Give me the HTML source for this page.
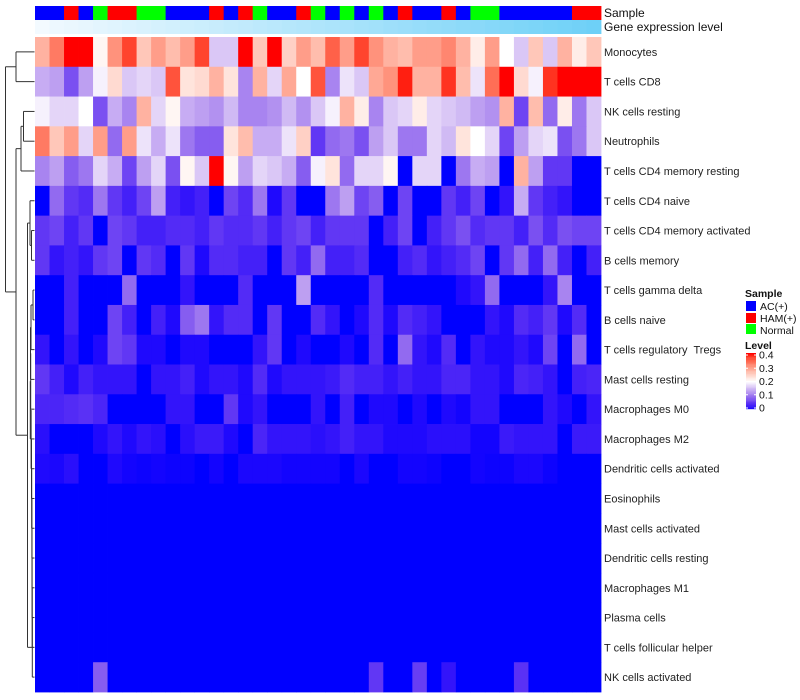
<!DOCTYPE html>
<html><head><meta charset="utf-8">
<style>
body{margin:0;background:#fff;}
svg{display:block;font-family:"Liberation Sans",sans-serif;}
</style></head>
<body>
<svg id="chart" width="800" height="700" viewBox="0 0 800 700" xmlns="http://www.w3.org/2000/svg">
  <rect width="800" height="700" fill="#fff"/>
  <g id="sampleBar"></g>
  <g id="geneBar"></g>
  <g id="cells"></g>
  <g id="dendro" stroke="#333" stroke-width="1" fill="none"></g>
  <g id="labels" font-size="11" fill="#222"></g>
  <text x="604" y="17" font-size="12" fill="#111">Sample</text>
  <text x="604" y="31" font-size="12" fill="#111">Gene expression level</text>
  <g font-size="10.5" fill="#111">
    <text x="745" y="297" font-weight="bold">Sample</text>
    <rect x="746" y="301" width="10" height="10" fill="#0000ff"/>
    <text x="760" y="310">AC(+)</text>
    <rect x="746" y="313" width="10" height="10" fill="#ff0000"/>
    <text x="760" y="322">HAM(+)</text>
    <rect x="746" y="324" width="10" height="10" fill="#00ff00"/>
    <text x="760" y="334">Normal</text>
    <text x="745" y="349" font-weight="bold">Level</text>
    <g id="levelBar"></g>
    <g id="levelTicks"></g>
  </g>
</svg>
<script>
const rowNames = ["Monocytes","T cells CD8","NK cells resting","Neutrophils","T cells CD4 memory resting","T cells CD4 naive","T cells CD4 memory activated","B cells memory","T cells gamma delta","B cells naive","T cells regulatory  Tregs","Mast cells resting","Macrophages M0","Macrophages M2","Dendritic cells activated","Eosinophils","Mast cells activated","Dendritic cells resting","Macrophages M1","Plasma cells","T cells follicular helper","NK cells activated"];
const sampleGroups = ["AC","AC","HAM","AC","N","HAM","HAM","N","N","AC","AC","AC","HAM","AC","HAM","N","AC","AC","HAM","N","AC","N","AC","N","AC","HAM","AC","AC","HAM","AC","N","N","AC","AC","AC","AC","AC","HAM","HAM"];
const geneExpr = [0.02,0.05,0.07,0.09,0.11,0.13,0.15,0.17,0.19,0.21,0.23,0.25,0.27,0.29,0.31,0.33,0.35,0.37,0.39,0.41,0.43,0.45,0.47,0.49,0.51,0.53,0.55,0.57,0.59,0.61,0.63,0.65,0.67,0.69,0.71,0.73,0.75,0.77,0.79];
const levelTicks = [0,0.1,0.2,0.3,0.4];
const Z = new Array(39).fill(0);
const r00 = [0.28,0.33,0.4,0.4,0.21,0.31,0.37,0.26,0.3,0.27,0.3,0.37,0.16,0.16,0.4,0.26,0.4,0.25,0.3,0.27,0.35,0.3,0.37,0.31,0.28,0.27,0.3,0.3,0.32,0.28,0.22,0.3,0.2,0.16,0.26,0.16,0.28,0.22,0.26];
const r01 = [0.14,0.13,0.07,0.13,0.19,0.24,0.16,0.17,0.16,0.36,0.23,0.24,0.28,0.23,0.11,0.28,0.17,0.29,0.2,0.36,0.11,0.18,0.16,0.29,0.31,0.39,0.28,0.28,0.38,0.27,0.18,0.34,0.4,0.24,0.19,0.38,0.4,0.4,0.4];
const r02 = [0.19,0.17,0.17,0.2,0.07,0.14,0.11,0.28,0.17,0.21,0.14,0.13,0.12,0.15,0.11,0.11,0.12,0.15,0.12,0.16,0.19,0.28,0.22,0.11,0.16,0.17,0.22,0.17,0.16,0.15,0.13,0.12,0.28,0.06,0.27,0.09,0.22,0.1,0.16];
const r03 = [0.33,0.26,0.3,0.17,0.3,0.09,0.3,0.18,0.14,0.18,0.1,0.08,0.08,0.23,0.27,0.14,0.14,0.18,0.25,0.05,0.09,0.1,0.07,0.13,0.16,0.1,0.1,0.17,0.15,0.23,0.2,0.17,0.06,0.13,0.17,0.18,0.07,0.1,0.16];
const r04 = [0.11,0.13,0.08,0.1,0.17,0.14,0.06,0.13,0.17,0.07,0.21,0.16,0.4,0.21,0.13,0.17,0.16,0.14,0.08,0.19,0.23,0.09,0.17,0.17,0.21,0,0.17,0.17,0,0.1,0.14,0.13,0,0.28,0.13,0.05,0.05,0,0];
const r05 = [0,0.09,0.05,0.04,0.1,0.05,0.03,0.06,0.13,0.03,0.02,0.03,0,0.06,0.04,0.1,0.01,0.05,0,0,0.1,0.13,0.06,0.08,0,0.06,0,0,0.05,0.03,0.06,0,0.02,0.14,0.05,0.03,0.02,0,0];
const r06 = [0.05,0.06,0.03,0.05,0,0.06,0.05,0.03,0.03,0.04,0.04,0.03,0.05,0.04,0.04,0.05,0.03,0.05,0.06,0.03,0.05,0.05,0.05,0,0.03,0.06,0,0.03,0.05,0.07,0.04,0.05,0.05,0.03,0.07,0.04,0.07,0.06,0.06];
const r07 = [0.05,0.02,0.03,0.02,0.05,0.06,0,0.05,0.04,0,0.05,0.01,0.04,0.04,0.03,0.03,0,0.05,0.03,0.09,0.03,0.03,0.04,0,0,0.03,0.04,0.02,0.03,0.04,0.06,0,0.05,0.09,0.03,0.09,0.03,0,0.03];
const r08 = [0,0,0.03,0,0,0,0.09,0,0,0,0.02,0,0,0,0.04,0,0,0,0.13,0,0,0,0,0.04,0,0,0,0,0,0.01,0.02,0.09,0,0,0,0.02,0.11,0,0];
const r09 = [0,0,0.03,0,0,0.06,0.03,0,0.03,0.01,0.08,0.1,0.02,0.04,0.04,0,0.05,0,0,0.04,0.02,0,0.01,0.04,0.01,0.04,0.03,0.02,0,0,0,0.02,0.01,0.04,0.03,0.05,0.01,0.04,0];
const r10 = [0.02,0,0.02,0,0.01,0.06,0.05,0.01,0.01,0,0.01,0.01,0,0,0,0.02,0.05,0,0.01,0,0,0.01,0,0.04,0,0.09,0.02,0.01,0.04,0,0.02,0.01,0.01,0.02,0.01,0.06,0,0.09,0];
const r11 = [0.05,0.03,0.01,0.03,0.02,0.02,0.02,0,0.02,0.02,0.03,0.01,0.02,0.02,0.01,0.04,0.01,0.02,0.02,0.02,0.025,0.04,0.03,0.03,0.02,0.03,0.02,0.02,0.035,0.035,0.02,0.02,0.01,0.035,0.03,0.02,0,0.03,0.035];
const r12 = [0.035,0.035,0.04,0.045,0.035,0,0,0,0,0.02,0.02,0,0,0.05,0.01,0.02,0,0,0,0.02,0,0.03,0,0.01,0.01,0,0.01,0,0.01,0.005,0.02,0.02,0,0,0,0.02,0.01,0,0.02];
const r13 = [0.015,0,0,0,0.01,0.02,0.01,0.02,0.015,0,0.015,0.025,0.025,0.01,0,0.035,0.02,0.02,0.02,0.015,0.02,0.03,0.02,0.02,0.01,0.01,0.01,0.015,0.015,0.015,0.005,0.005,0.025,0.02,0.02,0.02,0,0.025,0.025];
const r14 = [0.01,0.008,0.015,0,0,0.01,0.005,0.003,0.005,0.003,0.003,0,0.005,0,0.008,0.008,0.008,0.005,0.005,0.005,0.005,0,0.008,0,0,0.005,0.005,0.003,0,0,0.005,0.003,0.003,0.008,0.008,0.003,0,0,0];
const r21 = [0,0,0,0,0.08,0,0,0,0,0,0,0,0,0,0,0,0,0,0,0,0,0,0,0.05,0,0,0.055,0,0.02,0,0,0,0,0.045,0,0,0,0,0];
const matrix = [r00,r01,r02,r03,r04,r05,r06,r07,r08,r09,r10,r11,r12,r13,r14,Z,Z,Z,Z,Z,Z,r21];

const SVGNS = "http://www.w3.org/2000/svg";
const X0 = 35, X1 = 601, Y0 = 37, Y1 = 692;
const nC = sampleGroups.length, nR = rowNames.length;
const cw = (X1 - X0) / nC, rh = (Y1 - Y0) / nR;
const xPos = i => X0 + i * cw;
const yPos = r => Y0 + r * rh;
const VMAX = 0.4;
function colorOf(v){
  let t = Math.max(0, Math.min(1, v / VMAX));
  let r,g,b;
  if (t < 0.5){ const s = t/0.5; r = 255*Math.pow(s,0.7); g = 255*Math.pow(s,1.1); b = 255*(1-0.06*Math.sin(Math.PI*s)); }
  else { const s = (t-0.5)/0.5; r = 255; g = 255*Math.pow(1-s,0.7); b = 255*Math.pow(1-s,0.9); }
  return `rgb(${Math.round(r)},${Math.round(g)},${Math.round(b)})`;
}
const groupColor = {AC:"#0000ff",HAM:"#ff0000",N:"#00ff00"};
function geneColor(v){
  const a=[246,251,255], b=[74,197,245];
  return `rgb(${a.map((c,i)=>Math.round(c+(b[i]-c)*v)).join(",")})`;
}
function mk(tag, attrs, parent){
  const el = document.createElementNS(SVGNS, tag);
  for (const k in attrs) el.setAttribute(k, attrs[k]);
  parent.appendChild(el);
  return el;
}
const sampleG = document.getElementById("sampleBar");
const geneG = document.getElementById("geneBar");
sampleGroups.forEach((g,i)=>{
  const el = mk("rect",{x:xPos(i),y:6,width:cw+0.4,height:14,fill:groupColor[g]},sampleG);
  
  
});
geneExpr.forEach((v,i)=>{
  const el = mk("rect",{x:xPos(i),y:20,width:cw+0.4,height:14,fill:geneColor(v)},geneG);
  
  
});
const cellsG = document.getElementById("cells");
matrix.forEach((row,r)=>{
  row.forEach((v,c)=>{
    const el = mk("rect",{x:xPos(c),y:yPos(r),width:cw+0.4,height:rh+0.4,fill:colorOf(v)},cellsG);
    
    
  });
});
const labG = document.getElementById("labels");
rowNames.forEach((n,r)=>{
  const el = mk("text",{x:604,y:yPos(r)+rh/2+4,"xml:space":"preserve"},labG);
  el.style.whiteSpace = "pre";
  el.textContent = n;
  
  
});
// dendrogram: nodes [left,right,xHeight]
const dG = document.getElementById("dendro");
const LEAF_X = 34.5;
function leaf(i){ return {y: yPos(i)+rh/2, x: LEAF_X}; }
function join(a,b,x){
  mk("line",{x1:x,y1:a.y,x2:x,y2:b.y},dG);
  mk("line",{x1:x,y1:a.y,x2:a.x,y2:a.y},dG);
  mk("line",{x1:x,y1:b.y,x2:b.x,y2:b.y},dG);
  return {y:(a.y+b.y)/2, x:x};
}
const n1 = join(leaf(0),leaf(1),16);
const n2 = join(leaf(2),leaf(3),23.5);
const n3 = join(n2,leaf(4),21);
const n4a = join(leaf(6),leaf(7),31.5);
const n4 = join(leaf(5),n4a,30);
let chain = join(leaf(8),leaf(9),33);
const chainX = [32.5,32,32.2,31.8,32.6,33,33.2,33.4,33.5,33.6,33.7,33.8];
for (let r=10; r<nR; r++){ chain = join(chain, leaf(r), chainX[r-10]-1.5); }
const D = join(n4, chain, 27.5);
const B = join(n3, D, 16);
join(n1, B, 5.5);
// level legend
const lb = document.getElementById("levelBar");
for (let k=0;k<40;k++){
  const v = VMAX*(1-k/40);
  mk("rect",{x:746,y:353+k*1.4,width:10,height:1.6,fill:colorOf(v)},lb);
}
const lt = document.getElementById("levelTicks");
levelTicks.forEach(v=>{
  const y = 408 - (v/VMAX)*53;
  mk("line",{x1:746,y1:y,x2:748,y2:y,stroke:"#fff","stroke-width":1},lt);
  mk("line",{x1:754,y1:y,x2:756,y2:y,stroke:"#fff","stroke-width":1},lt);
  const t = mk("text",{x:759,y:y+3.5,"font-size":"10.5",fill:"#111"},lt);
  t.textContent = String(v);
  
  
});
</script>
</body></html>
